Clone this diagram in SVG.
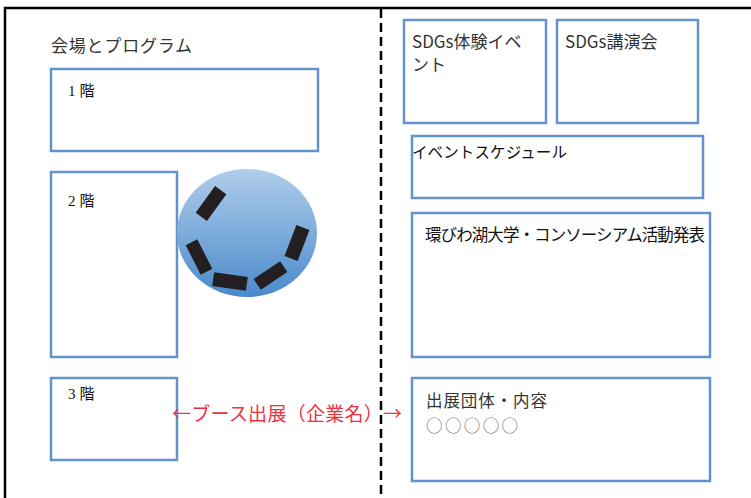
<svg xmlns="http://www.w3.org/2000/svg" width="751" height="498" viewBox="0 0 751 498">
<defs>
<linearGradient id="g" x1="0" y1="0" x2="0" y2="1">
<stop offset="0" stop-color="#b0cdeb"/>
<stop offset="1" stop-color="#4a8acb"/>
</linearGradient>
</defs>
<style>
.box{fill:#fff;stroke:#6393cc;stroke-width:2.5}
.sans{font-family:"Noto Sans CJK JP","Liberation Sans",sans-serif;fill:#333}
.serif{font-family:"Liberation Serif","Noto Sans CJK JP",serif;fill:#111}
.blk{fill:#231f20}
</style>
<rect width="751" height="498" fill="#fff"/>
<path d="M5,498 V8 H751" fill="none" stroke="#000" stroke-width="2.5"/>
<g id="connectors">
<line x1="381" y1="9" x2="381" y2="498" stroke="#000" stroke-width="2.5" stroke-dasharray="9 5"/>
</g>
<g id="title"><text class="sans" x="51" y="52" font-size="17" textLength="141">会場とプログラム</text></g>
<g id="floor1"><rect class="box" x="51" y="69" width="267" height="82"/><text class="serif" x="68" y="96" font-size="15">1<tspan dx="4">階</tspan></text></g>
<g id="floor2"><rect class="box" x="51" y="172" width="126" height="185"/><text class="serif" x="68" y="206" font-size="15">2<tspan dx="4">階</tspan></text></g>
<g id="floor3"><rect class="box" x="51" y="378" width="126" height="82"/><text class="serif" x="68" y="399" font-size="15">3<tspan dx="4">階</tspan></text></g>
<g id="round-table">
<ellipse cx="247" cy="233" rx="70" ry="64" fill="url(#g)"/>
<rect class="blk" x="-7" y="-16.5" width="14" height="33" transform="translate(211,203.5) rotate(36)"/>
<rect class="blk" x="-6.5" y="-16.5" width="13" height="33" transform="translate(199,257) rotate(-27)"/>
<rect class="blk" x="-17" y="-7" width="34" height="14" transform="translate(230,281.5) rotate(8)"/>
<rect class="blk" x="-16" y="-6.5" width="32" height="13" transform="translate(270.5,275.5) rotate(-34)"/>
<rect class="blk" x="-7" y="-16.5" width="14" height="33" transform="translate(297,243) rotate(21)"/>
</g>
<g id="booth-label"><text x="172" y="421" font-size="19" textLength="230" font-family="Noto Sans CJK JP, sans-serif" fill="#ee3340">←ブース出展（企業名）→</text></g>
<g id="sdgs-event"><rect class="box" x="404" y="20" width="142" height="103"/><text class="sans" font-size="17" fill="#222"><tspan x="412" y="48">SDGs体験イベ</tspan><tspan x="412" y="71">ント</tspan></text></g>
<g id="sdgs-lecture"><rect class="box" x="557" y="20" width="141" height="103"/><text class="sans" x="565" y="48" font-size="17" fill="#222">SDGs講演会</text></g>
<g id="schedule"><rect class="box" x="412" y="136" width="291" height="62"/><text class="serif" x="412" y="158" font-size="15.5" textLength="155">イベントスケジュール</text></g>
<g id="presentation"><rect class="box" x="412" y="213" width="298" height="144"/><text class="serif" x="425" y="241" font-size="16.5" textLength="280">環びわ湖大学・コンソーシアム活動発表</text></g>
<g id="exhibitors"><rect class="box" x="412" y="378" width="298" height="103"/><text class="sans" x="426" y="407" font-size="16.5" textLength="121">出展団体・内容</text><text x="426" y="432" font-size="16.5" textLength="92" font-family="Noto Sans CJK JP, sans-serif" fill="#777">○○○○○</text></g>
</svg>
